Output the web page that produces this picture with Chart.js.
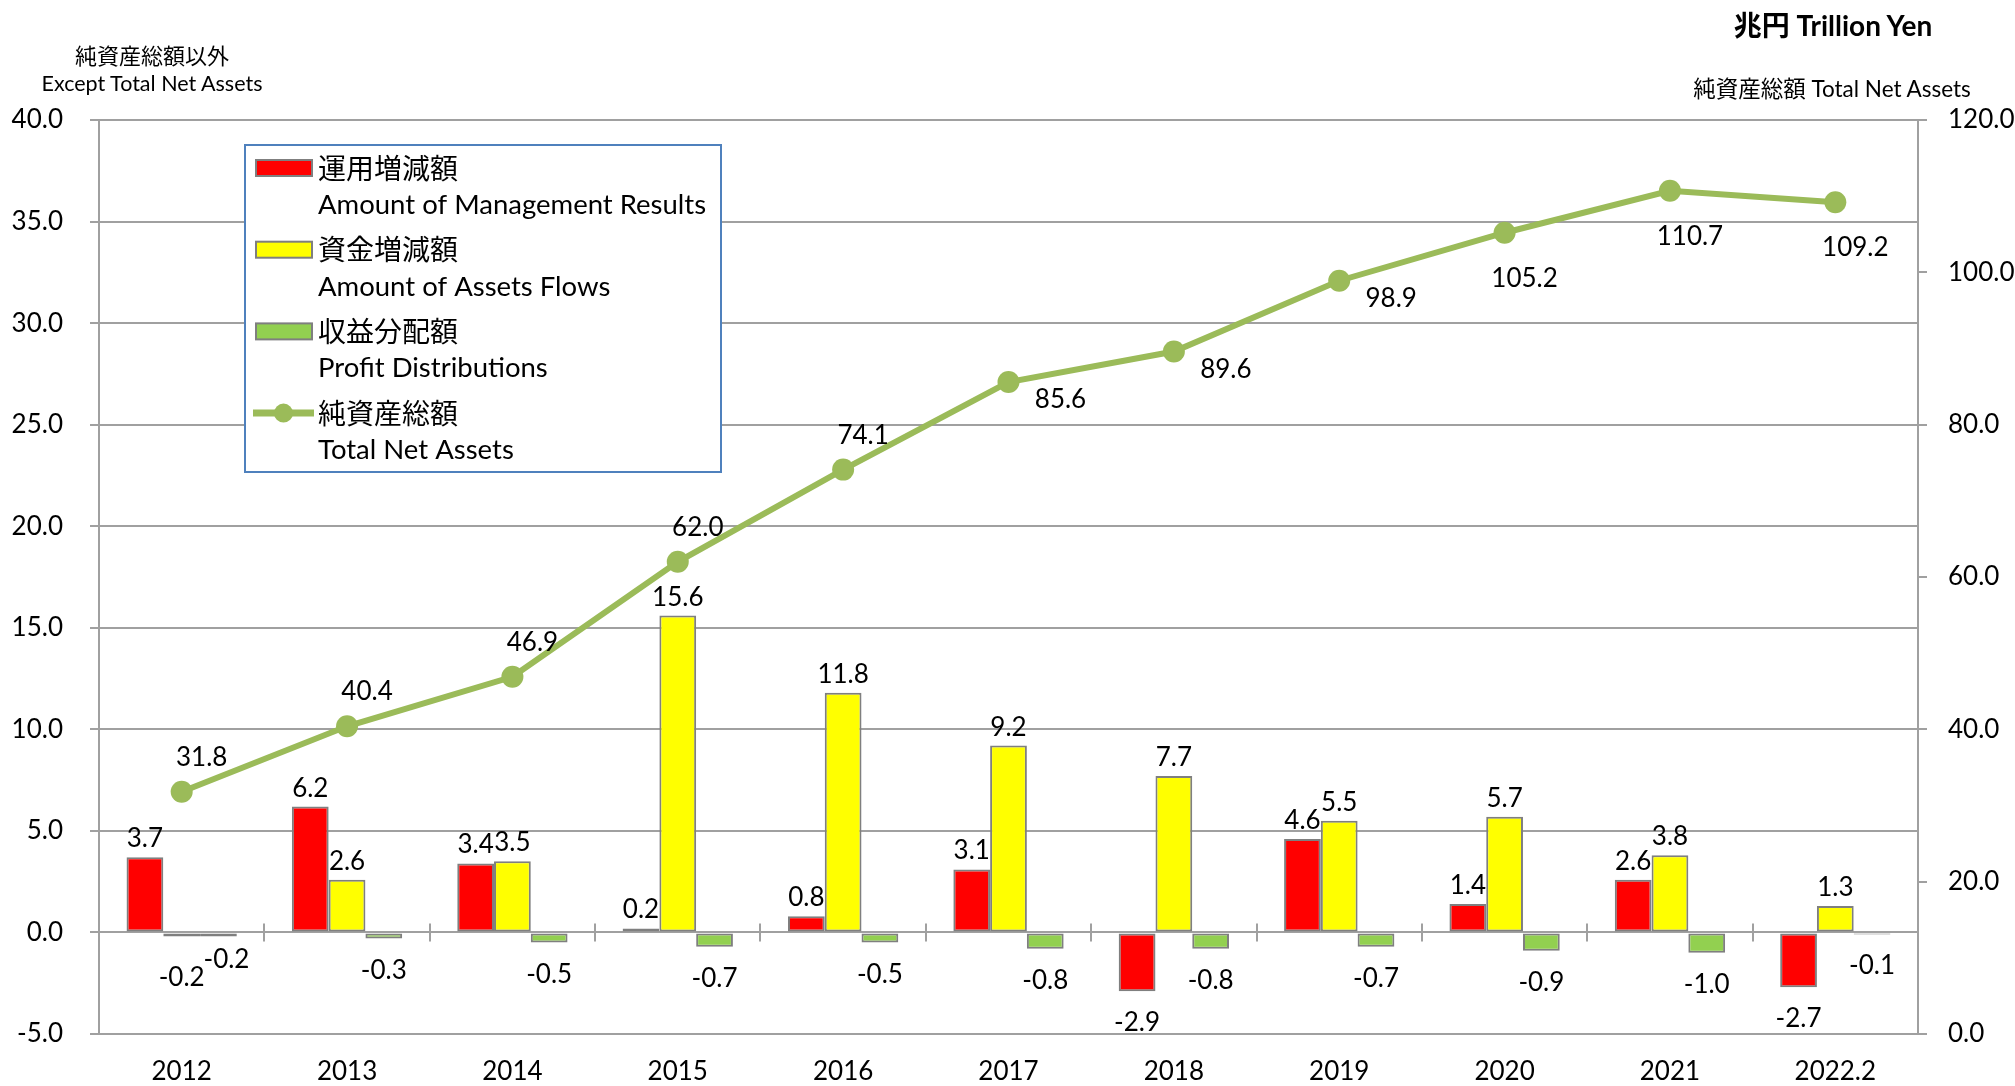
<!DOCTYPE html>
<html>
<head>
<meta charset="utf-8">
<script src="https://cdn.jsdelivr.net/npm/chart.js@4.4.1/dist/chart.umd.min.js"></script>
<style>
html,body{margin:0;padding:0;background:#fff;}
#wrap{position:relative;width:2015px;height:1086px;overflow:hidden;}
#c{position:absolute;left:0;top:0;}
.cap{position:absolute;white-space:nowrap;color:#000;font-family:Lato,'Noto Sans CJK JP',sans-serif;transform:translate(-50%,-50%);line-height:1;}
</style>
</head>
<body>
<div id="wrap">
<canvas id="c" width="2015" height="1086"></canvas>
<div class="cap" style="left:152px;top:54px;font-size:22px;font-family:'Noto Sans CJK JP',sans-serif;">純資産総額以外</div>
<div class="cap" style="left:152px;top:84px;font-size:21.5px;">Except Total Net Assets</div>
<div class="cap" style="left:1833px;top:25px;font-size:28px;font-weight:bold;">兆円 Trillion Yen</div>
<div class="cap" style="left:1832px;top:89px;font-size:22.5px;">純資産総額 Total Net Assets</div>
</div>
<script>
// ---- data ----
const categories = ['2012','2013','2014','2015','2016','2017','2018','2019','2020','2021','2022.2'];
const managementResults = [3.7, 6.2, 3.4, 0.2, 0.8, 3.1, -2.9, 4.6, 1.4, 2.6, -2.7];
const assetFlows = [-0.2, 2.6, 3.5, 15.6, 11.8, 9.2, 7.7, 5.5, 5.7, 3.8, 1.3];
const profitDistributions = [-0.2, -0.3, -0.5, -0.7, -0.5, -0.8, -0.8, -0.7, -0.9, -1.0, -0.1];
const totalNetAssets = [31.8, 40.4, 46.9, 62.0, 74.1, 85.6, 89.6, 98.9, 105.2, 110.7, 109.2];
const leftAxis = {min: -5, max: 40, step: 5};
const rightAxis = {min: 0, max: 120, step: 20};
const namesJa = ['運用増減額', '資金増減額', '収益分配額', '純資産総額'];
const namesEn = ['Amount of Management Results', 'Amount of Assets Flows', 'Profit Distributions', 'Total Net Assets'];
const netAssetLabelSide = ['above','above','above','above','above','right','right','right','below','below','below'];

// ---- styles ----
const LATIN = 'Lato, "Noto Sans CJK JP", sans-serif';
const CJK = '"Noto Sans CJK JP", sans-serif';
const GRID = '#A0A0A0';
const BAR_BORDER = '#7F7F7F';
const RED = '#FF0000', YELLOW = '#FFFF00', GREEN = '#92D050', LINE = '#9BBB59';
const fmt = v => v.toFixed(1);

const barLabels = {
  id: 'barLabels',
  afterDatasetsDraw(chart) {
    const ctx = chart.ctx;
    ctx.save();
    ctx.font = '26px ' + LATIN;
    ctx.fillStyle = '#000';
    const items = [];
    chart.data.datasets.forEach((ds, i) => {
      const meta = chart.getDatasetMeta(i);
      meta.data.forEach((el, j) => {
        const v = ds.data[j];
        const p = el.getProps(['x', 'y'], true);
        const text = fmt(v);
        if (ds.type === 'line') {
          const side = netAssetLabelSide[j];
          let dx = 20, dy = -35;
          if (side === 'right') { dx = 52; dy = 17; }
          if (side === 'below') { dx = 20; dy = 45; }
          items.push({text, x: p.x + dx, y: p.y + dy + 9, cat: -1});
        } else {
          const y = v >= 0 ? p.y - 10 : p.y + 40;
          items.push({text, x: p.x, y, cat: j, neg: v < 0, w: ctx.measureText(text).width});
        }
      });
    });
    // nudge overlapping negative labels within the same category
    for (let a = 0; a < items.length; a++) {
      for (let b = a + 1; b < items.length; b++) {
        const A = items[a], B = items[b];
        if (A.cat < 0 || A.cat !== B.cat || !A.neg || !B.neg) continue;
        if (Math.abs(A.x - B.x) < (A.w + B.w) / 2 && Math.abs(A.y - B.y) < 20) {
          A.y += 9; B.y -= 9; B.x += 8;
        }
      }
    }
    ctx.textAlign = 'center';
    ctx.textBaseline = 'alphabetic';
    items.forEach(it => ctx.fillText(it.text, it.x, it.y));
    ctx.restore();
  }
};

const crossTicks = {
  id: 'crossTicks',
  beforeDatasetsDraw(chart) {
    const ctx = chart.ctx, xs = chart.scales.x, ys = chart.scales.y;
    const y0 = ys.getPixelForValue(0);
    ctx.save();
    ctx.strokeStyle = GRID;
    ctx.lineWidth = 2;
    ctx.beginPath();
    for (let i = 1; i < categories.length; i++) {
      const xb = Math.round((xs.getPixelForValue(i - 1) + xs.getPixelForValue(i)) / 2);
      ctx.moveTo(xb, y0 - 9);
      ctx.lineTo(xb, y0 + 9);
    }
    ctx.stroke();
    ctx.restore();
  }
};

const boxLegend = {
  id: 'boxLegend',
  afterDraw(chart) {
    const ctx = chart.ctx;
    const bx = 245, by = 145, bw = 476, bh = 327;
    ctx.save();
    ctx.fillStyle = '#fff';
    ctx.fillRect(bx, by, bw, bh);
    ctx.strokeStyle = '#4F81BD';
    ctx.lineWidth = 2;
    ctx.strokeRect(bx, by, bw, bh);
    chart.data.datasets.forEach((ds, i) => {
      const cy = 168 + i * 81.7;
      if (ds.type === 'line') {
        ctx.strokeStyle = LINE;
        ctx.lineWidth = 7;
        ctx.beginPath();
        ctx.moveTo(253, cy); ctx.lineTo(314, cy);
        ctx.stroke();
        ctx.fillStyle = LINE;
        ctx.beginPath();
        ctx.arc(283.5, cy, 9.5, 0, Math.PI * 2);
        ctx.fill();
      } else {
        ctx.fillStyle = ds.backgroundColor;
        ctx.fillRect(256, cy - 8, 56, 16);
        ctx.strokeStyle = BAR_BORDER;
        ctx.lineWidth = 2;
        ctx.strokeRect(256, cy - 8, 56, 16);
      }
      ctx.fillStyle = '#000';
      ctx.textAlign = 'left';
      ctx.textBaseline = 'middle';
      ctx.font = '28px ' + CJK;
      ctx.fillText(namesJa[i], 318, cy);
      ctx.font = '27.5px ' + LATIN;
      ctx.fillText(namesEn[i], 318, cy + 37);
    });
    ctx.restore();
  }
};

const tickFont = {family: LATIN, size: 26};

new Chart(document.getElementById('c'), {
  data: {
    labels: categories,
    datasets: [
      {type: 'bar', label: namesJa[0] + ' ' + namesEn[0], data: managementResults, backgroundColor: RED,
       borderColor: BAR_BORDER, borderWidth: 2, borderSkipped: false, yAxisID: 'y', order: 1,
       categoryPercentage: 0.667, barPercentage: 1.0},
      {type: 'bar', label: namesJa[1] + ' ' + namesEn[1], data: assetFlows, backgroundColor: YELLOW,
       borderColor: BAR_BORDER, borderWidth: 2, borderSkipped: false, yAxisID: 'y', order: 1,
       categoryPercentage: 0.667, barPercentage: 1.0},
      {type: 'bar', label: namesJa[2] + ' ' + namesEn[2], data: profitDistributions, backgroundColor: GREEN,
       borderColor: BAR_BORDER, borderWidth: 2, borderSkipped: false, yAxisID: 'y', order: 1,
       categoryPercentage: 0.667, barPercentage: 1.0},
      {type: 'line', label: namesJa[3] + ' ' + namesEn[3], data: totalNetAssets, borderColor: LINE,
       backgroundColor: LINE, borderWidth: 6, pointRadius: 11, pointBackgroundColor: LINE,
       pointBorderWidth: 0, tension: 0, yAxisID: 'y2', order: 0}
    ]
  },
  options: {
    responsive: false,
    devicePixelRatio: 1,
    animation: false,
    layout: {padding: {top: 120, left: 0, right: 0, bottom: 0}},
    plugins: {legend: {display: false}, tooltip: {enabled: false}},
    scales: {
      x: {
        type: 'category', offset: true,
        grid: {display: false, drawTicks: false},
        border: {display: false},
        ticks: {font: tickFont, color: '#000', padding: 22, maxRotation: 0, autoSkip: false},
        afterFit(s) { s.height = 52; }
      },
      y: {
        position: 'left', min: leftAxis.min, max: leftAxis.max,
        ticks: {stepSize: leftAxis.step, callback: v => fmt(v), font: tickFont, color: '#000', padding: 27},
        grid: {color: GRID, lineWidth: 2, tickLength: 9, drawTicks: true},
        border: {color: GRID, width: 2},
        afterFit(s) { s.width = 99; }
      },
      y2: {
        position: 'right', min: rightAxis.min, max: rightAxis.max,
        ticks: {stepSize: rightAxis.step, callback: v => fmt(v), font: tickFont, color: '#000', padding: 21},
        grid: {drawOnChartArea: false, color: GRID, lineWidth: 2, tickLength: 9, drawTicks: true},
        border: {color: GRID, width: 2},
        afterFit(s) { s.width = 97; }
      }
    }
  },
  plugins: [crossTicks, barLabels, boxLegend]
});
</script>
</body>
</html>
